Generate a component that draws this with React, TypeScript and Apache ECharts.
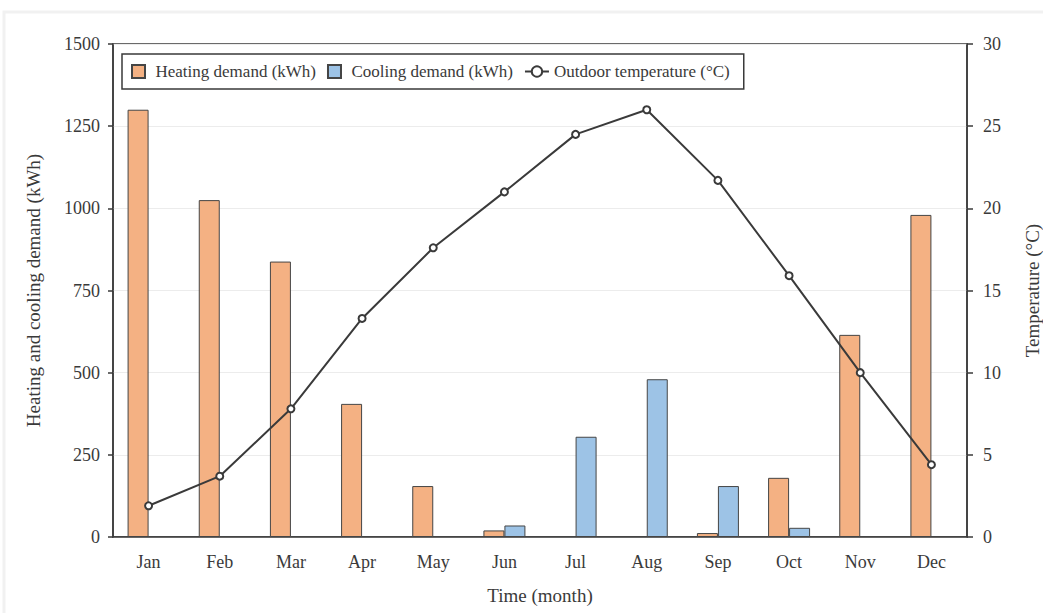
import React, { useEffect, useRef } from "react";
import * as echarts from "echarts";

const months = ["Jan", "Feb", "Mar", "Apr", "May", "Jun", "Jul", "Aug", "Sep", "Oct", "Nov", "Dec"];
const heating = [1300, 1025, 838, 405, 155, 20, 0, 0, 12, 180, 615, 980];
const cooling = [0, 0, 0, 0, 0, 35, 305, 480, 155, 28, 0, 0];
const temperature = [1.9, 3.7, 7.8, 13.3, 17.6, 21.0, 24.5, 26.0, 21.7, 15.9, 10.0, 4.4];

const FONT = "'Liberation Serif', 'Times New Roman', serif";
const TXT = "#3a3a3a";
const DARK = "#3a3a3a";
const SQUARE = "path://M0,0L10,0L10,10L0,10Z";

// A zero demand draws no bar in the reference.
const asBars = (vals: number[]) => vals.map((v) => (v === 0 ? null : v));

export default function App() {
  const ref = useRef<HTMLDivElement>(null);
  useEffect(() => {
    document.body.style.margin = "0";
    const chart = echarts.init(ref.current!, null, { renderer: "svg" });
    chart.setOption({
      animation: false,
      backgroundColor: "#ffffff",
      textStyle: { fontFamily: FONT },
      graphic: [
        {
          type: "rect",
          shape: { x: 4, y: 12, width: 1060, height: 620 },
          style: { fill: "none", stroke: "#f1f1f1", lineWidth: 3 },
          silent: true,
        },
      ],
      grid: {
        left: 113,
        right: 76,
        top: 44,
        bottom: 76,
        containLabel: false,
        outerBoundsMode: "none",
        show: true,
        borderColor: DARK,
        borderWidth: 1.5,
        backgroundColor: "transparent",
      },
      legend: {
        left: 122,
        top: 54,
        padding: [9, 14, 9, 9],
        borderColor: DARK,
        borderWidth: 1.5,
        itemWidth: 24,
        itemHeight: 13,
        itemGap: 11,
        textStyle: { fontFamily: FONT, fontSize: 17, color: TXT },
        data: [
          { name: "Heating demand (kWh)", icon: SQUARE },
          { name: "Cooling demand (kWh)", icon: SQUARE },
          { name: "Outdoor temperature (°C)" },
        ],
      },
      xAxis: {
        type: "category",
        data: months,
        name: "Time (month)",
        nameLocation: "middle",
        nameGap: 49,
        nameTextStyle: { fontFamily: FONT, fontSize: 19, color: TXT },
        axisLine: { show: true, lineStyle: { color: DARK, width: 1.5 } },
        axisTick: { show: false },
        axisLabel: { fontFamily: FONT, fontSize: 18, color: TXT, margin: 16 },
        splitLine: { show: false },
      },
      yAxis: [
        {
          type: "value",
          min: 0,
          max: 1500,
          interval: 250,
          name: "Heating and cooling demand (kWh)",
          nameLocation: "middle",
          nameRotate: 90,
          nameGap: 70,
          nameTextStyle: { fontFamily: FONT, fontSize: 19, color: TXT },
          axisLine: { show: true, lineStyle: { color: DARK, width: 1.5 } },
          axisTick: { show: true, inside: false, length: 5, lineStyle: { color: DARK, width: 1.5 } },
          axisLabel: {
            fontFamily: FONT,
            fontSize: 18,
            color: TXT,
            margin: 13,
            formatter: (v: number) => String(v),
          },
          splitLine: { show: true, lineStyle: { color: "#ececec", width: 1 } },
        },
        {
          type: "value",
          min: 0,
          max: 30,
          interval: 5,
          position: "right",
          name: "Temperature (°C)",
          nameLocation: "middle",
          nameRotate: 90,
          nameGap: 56,
          nameTextStyle: { fontFamily: FONT, fontSize: 19, color: TXT },
          axisLine: { show: true, lineStyle: { color: DARK, width: 1.5 } },
          axisTick: { show: true, inside: false, length: 6, lineStyle: { color: DARK, width: 1.5 } },
          axisLabel: { fontFamily: FONT, fontSize: 18, color: TXT, margin: 16 },
          splitLine: { show: false },
        },
      ],
      series: [
        {
          name: "Heating demand (kWh)",
          type: "bar",
          data: asBars(heating),
          barWidth: 21,
          barGap: "0%",
          itemStyle: { color: "#F4B183", borderColor: "#454545", borderWidth: 1 },
        },
        {
          name: "Cooling demand (kWh)",
          type: "bar",
          data: asBars(cooling),
          barWidth: 21,
          barGap: "0%",
          itemStyle: { color: "#9DC3E6", borderColor: "#454545", borderWidth: 1 },
        },
        {
          name: "Outdoor temperature (°C)",
          type: "line",
          yAxisIndex: 1,
          data: temperature,
          symbol: "emptyCircle",
          symbolSize: 7,
          lineStyle: { color: DARK, width: 2 },
          itemStyle: { color: DARK, borderWidth: 1.5 },
          z: 5,
        },
      ],
    });
    return () => chart.dispose();
  }, []);
  return <div ref={ref} style={{ width: 1043, height: 613 }} />;
}
